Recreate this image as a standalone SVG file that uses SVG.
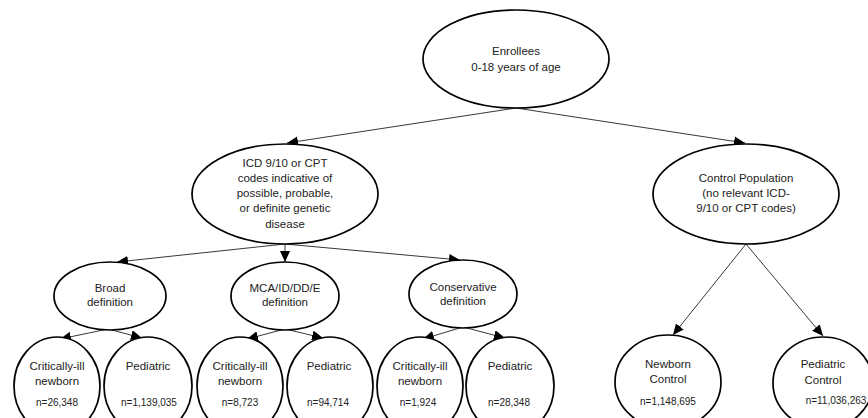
<svg xmlns="http://www.w3.org/2000/svg" width="868" height="418" viewBox="0 0 868 418">
<defs>
<style>
.n ellipse{fill:#fff;stroke:#000;stroke-width:1.7}
text{font-family:"Liberation Sans",Arial,sans-serif;font-size:11.5px;fill:#222;text-anchor:middle}
text.c{font-size:10px}
#connectors line{stroke:#222;stroke-width:0.9}
</style>
<marker id="ah" markerUnits="userSpaceOnUse" markerWidth="12" markerHeight="10" refX="11" refY="5" orient="auto">
<path d="M0,0 L11,5 L0,10 Z" fill="#000"/>
</marker>
</defs>
<rect width="868" height="418" fill="#fff"/>
<g id="connectors">
<line x1="516" y1="108" x2="287" y2="143" marker-end="url(#ah)"/>
<line x1="516" y1="108" x2="745" y2="143" marker-end="url(#ah)"/>
<line x1="285" y1="244" x2="117" y2="262" marker-end="url(#ah)"/>
<line x1="285" y1="244" x2="285" y2="262" marker-end="url(#ah)"/>
<line x1="285" y1="244" x2="460" y2="260" marker-end="url(#ah)"/>
<line x1="108" y1="329" x2="60" y2="339" marker-end="url(#ah)"/>
<line x1="108" y1="329" x2="142" y2="338" marker-end="url(#ah)"/>
<line x1="285" y1="329" x2="247" y2="339" marker-end="url(#ah)"/>
<line x1="285" y1="329" x2="323" y2="338" marker-end="url(#ah)"/>
<line x1="463" y1="327" x2="423" y2="339" marker-end="url(#ah)"/>
<line x1="463" y1="327" x2="505" y2="338" marker-end="url(#ah)"/>
<line x1="746" y1="244" x2="673" y2="335" marker-end="url(#ah)"/>
<line x1="746" y1="244" x2="823" y2="336" marker-end="url(#ah)"/>
</g>
<g id="enrollees" class="n"><ellipse cx="516" cy="59" rx="93" ry="49"/><text x="516" y="55">Enrollees</text><text x="516" y="71">0-18 years of age</text></g>
<g id="icd" class="n"><ellipse cx="285" cy="194" rx="93" ry="50"/>
<text x="285" y="167">ICD 9/10 or CPT</text><text x="285" y="182">codes indicative of</text><text x="285" y="197">possible, probable,</text><text x="285" y="212">or definite genetic</text><text x="285" y="228">disease</text></g>
<g id="control" class="n"><ellipse cx="746" cy="194" rx="93" ry="50"/>
<text x="746" y="182">Control Population</text><text x="746" y="197">(no relevant ICD-</text><text x="746" y="212">9/10 or CPT codes)</text></g>
<g id="broad" class="n"><ellipse cx="110" cy="296" rx="56" ry="34"/><text x="110" y="292">Broad</text><text x="110" y="306">definition</text></g>
<g id="mca" class="n"><ellipse cx="285" cy="296" rx="54" ry="34"/><text x="285" y="292">MCA/ID/DD/E</text><text x="285" y="306">definition</text></g>
<g id="conservative" class="n"><ellipse cx="463" cy="294" rx="54" ry="34"/><text x="463" y="291">Conservative</text><text x="463" y="305">definition</text></g>
<g id="ci1" class="n"><ellipse cx="57" cy="386" rx="43" ry="49"/><text x="57" y="370">Critically-ill</text><text x="57" y="385">newborn</text><text class="c" x="57" y="406">n=26,348</text></g>
<g id="ped1" class="n"><ellipse cx="148" cy="386" rx="44" ry="49"/><text x="148" y="370">Pediatric</text><text class="c" x="149" y="406">n=1,139,035</text></g>
<g id="ci2" class="n"><ellipse cx="240" cy="386" rx="43" ry="49"/><text x="240" y="370">Critically-ill</text><text x="240" y="385">newborn</text><text class="c" x="240" y="406">n=8,723</text></g>
<g id="ped2" class="n"><ellipse cx="330" cy="386" rx="43" ry="49"/><text x="329" y="370">Pediatric</text><text class="c" x="328" y="406">n=94,714</text></g>
<g id="ci3" class="n"><ellipse cx="420" cy="386" rx="43" ry="49"/><text x="420" y="370">Critically-ill</text><text x="420" y="385">newborn</text><text class="c" x="418" y="406">n=1,924</text></g>
<g id="ped3" class="n"><ellipse cx="510" cy="386" rx="44" ry="49"/><text x="510" y="370">Pediatric</text><text class="c" x="509" y="406">n=28,348</text></g>
<g id="newborn-control" class="n"><ellipse cx="668" cy="382" rx="53" ry="47"/><text x="668" y="368">Newborn</text><text x="668" y="383">Control</text><text class="c" x="668" y="405">n=1,148,695</text></g>
<g id="pediatric-control" class="n"><ellipse cx="823" cy="383" rx="50" ry="46"/><text x="823" y="368">Pediatric</text><text x="823" y="384">Control</text><text class="c" x="836" y="404">n=11,036,263</text></g>
</svg>
